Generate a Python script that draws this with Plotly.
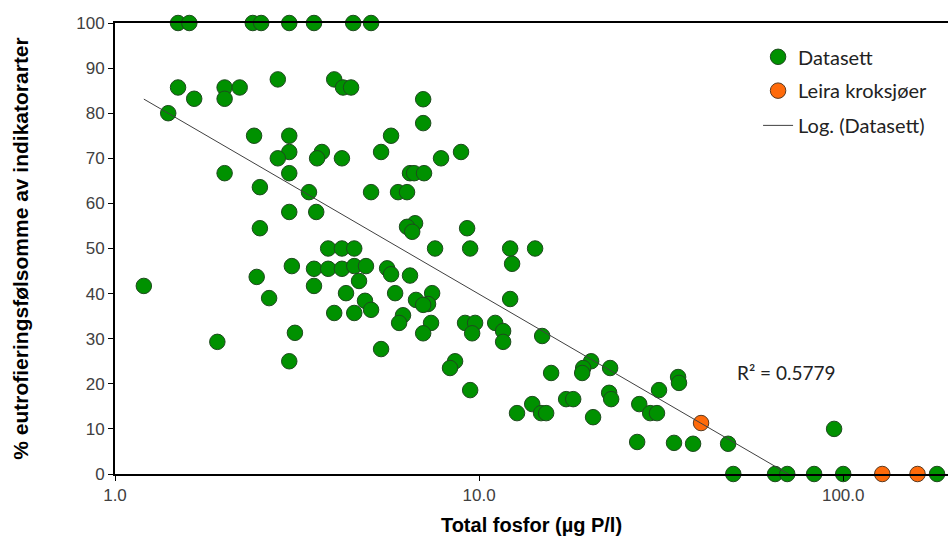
import numpy as np
import plotly.graph_objects as go

# Datasett (green)
data_x = [1.49, 1.60, 2.39, 2.52, 3.01, 3.52, 4.51, 5.05,
          1.49, 1.65, 2.00, 2.00, 2.20, 2.80, 4.00, 4.23, 4.45,
          1.40, 2.41, 3.01, 3.01, 2.80, 3.70, 3.59, 4.20, 5.73, 5.38,
          6.46, 2.00, 2.50, 3.01, 3.41, 5.05, 5.99, 6.34,
          3.01, 3.57, 2.50, 3.85, 4.20, 4.54,
          3.06, 3.52, 3.85, 4.20, 4.54, 4.89, 5.59, 5.73, 6.46,
          2.45, 4.68, 3.52, 1.20, 2.65, 4.31, 5.88, 4.86, 5.05,
          4.00, 4.54, 6.18, 6.03, 3.12, 1.91, 5.38, 3.01,
          7.02, 7.02, 7.86, 8.92, 6.63, 7.06,
          6.67, 6.34, 6.55, 9.27, 7.57, 9.45, 12.17, 14.25, 12.32,
          7.43, 6.71, 7.24, 7.02, 7.38, 9.15, 9.75, 11.07, 9.57, 7.02,
          11.64, 11.64, 12.17, 14.90,
          8.59, 8.32, 9.45, 20.31, 19.31, 19.19, 15.77, 22.90, 35.2, 35.4,
          31.2, 22.76, 23.05, 17.34, 18.13, 12.71, 13.99, 14.80, 15.28, 20.56,
          27.53, 29.5, 30.8, 27.17, 34.3, 38.7, 48.3, 94.4,
          49.9, 65.0, 70.2, 83.2, 100.0, 181.0]
data_y = [100, 100, 100, 100, 100, 100, 100, 100,
          85.7, 83.2, 85.7, 83.2, 85.7, 87.5, 87.5, 85.7, 85.7,
          80.0, 75.0, 75.0, 71.4, 70.0, 71.4, 70.0, 70.0, 75.0, 71.4,
          66.7, 66.7, 63.6, 66.7, 62.5, 62.5, 62.5, 62.5,
          58.1, 58.1, 54.5, 50.0, 50.0, 50.0,
          46.1, 45.5, 45.5, 45.5, 46.1, 46.1, 45.6, 44.3, 44.0,
          43.7, 42.8, 41.7, 41.7, 39.0, 40.1, 40.1, 38.4, 36.4,
          35.7, 35.7, 35.2, 33.5, 31.3, 29.3, 27.7, 25.0,
          83.1, 77.8, 70.0, 71.4, 66.7, 66.7,
          55.6, 54.8, 53.7, 54.5, 50.0, 50.0, 50.0, 50.0, 46.6,
          40.1, 38.6, 37.7, 37.5, 33.5, 33.5, 33.5, 33.5, 31.2, 31.2,
          31.7, 29.3, 38.8, 30.6,
          25.0, 23.5, 18.6, 25.0, 23.5, 22.4, 22.4, 23.5, 21.5, 20.2,
          18.6, 18.0, 16.6, 16.6, 16.6, 13.5, 15.5, 13.5, 13.5, 12.6,
          15.5, 13.5, 13.5, 7.1, 6.9, 6.7, 6.7, 10.0,
          0, 0, 0, 0, 0, 0]

# Leira kroksjøer (orange)
leira_x = [40.7, 128.0, 160.0]
leira_y = [11.3, 0, 0]

# Logarithmic trendline: y = TREND_A * ln(x) + TREND_B
TREND_A = -20.4
TREND_B = 86.85
R2_TEXT = "R² = 0.5779"

x_ticks = [1, 10, 100]
x_ticktext = ["1.0", "10.0", "100.0"]
y_ticks = list(range(0, 101, 10))

tx = np.logspace(np.log10(min(data_x)), np.log10(max(data_x)), 400)
ty = TREND_A * np.log(tx) + TREND_B

fig = go.Figure()
fig.add_trace(go.Scatter(
    x=data_x, y=data_y, mode="markers", name="Datasett",
    marker=dict(size=15.5, color="#009100", line=dict(color="#1e4a1e", width=1)),
    cliponaxis=False, legend="legend"))
fig.add_trace(go.Scatter(
    x=leira_x, y=leira_y, mode="markers", name="Leira kroksjøer",
    marker=dict(size=15.5, color="#ff6a0a", line=dict(color="#5a3a20", width=1)),
    cliponaxis=False, legend="legend2"))
fig.add_trace(go.Scatter(
    x=tx, y=ty, mode="lines", name="Log. (Datasett)",
    line=dict(color="#404040", width=1), cliponaxis=True, legend="legend3"))

fig.add_annotation(x=np.log10(50.5), y=22.6, xref="x", yref="y", text=R2_TEXT,
                   showarrow=False, xanchor="left", yanchor="middle",
                   font=dict(family="Lato, Open Sans, sans-serif", size=19, color="#222222"))

legfont = dict(family="Lato, Open Sans, sans-serif", size=20, color="#222222")
common = dict(xref="paper", yref="paper", xanchor="left", yanchor="middle",
              bgcolor="rgba(0,0,0,0)", font=legfont, borderwidth=0)
fig.update_layout(
    legend=dict(x=0.772, y=0.925, **common),
    legend2=dict(x=0.772, y=0.85, **common),
    legend3=dict(x=0.772, y=0.773, **common),
)

fig.update_xaxes(type="log", range=[0, np.log10(194)], tickvals=x_ticks, ticktext=x_ticktext,
                 showgrid=False, zeroline=False, showline=True, linecolor="black", linewidth=2,
                 mirror=True, ticks="outside", ticklen=5, tickcolor="black",
                 tickfont=dict(family="Liberation Sans, Arial, sans-serif", size=17, color="#404040"),
                 title=dict(text="<b>Total fosfor (µg P/l)</b>", standoff=14,
                            font=dict(family="Liberation Sans, Arial, sans-serif", size=20, color="black")))
fig.update_yaxes(range=[0, 100], tickvals=y_ticks, showgrid=False, zeroline=False,
                 showline=True, linecolor="black", linewidth=2, ticks="outside", ticklen=5,
                 tickcolor="black",
                 tickfont=dict(family="Liberation Sans, Arial, sans-serif", size=17, color="#404040"),
                 title=dict(text="<b>% eutrofieringsfølsomme av indikatorarter</b>", standoff=42,
                            font=dict(family="Liberation Sans, Arial, sans-serif", size=21, color="black")))

fig.update_layout(width=948, height=536, margin=dict(l=115, r=0, t=23, b=62),
                  plot_bgcolor="white", paper_bgcolor="white", showlegend=True)

fig.write_html("out.html")
